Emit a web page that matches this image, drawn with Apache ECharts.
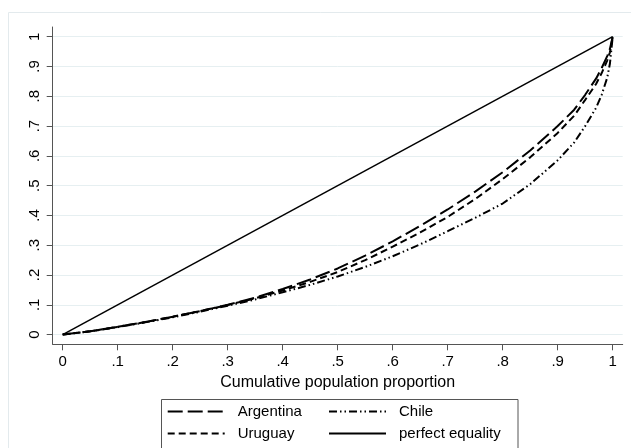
<!DOCTYPE html>
<html><head><meta charset="utf-8">
<script src="https://cdn.jsdelivr.net/npm/echarts@6/dist/echarts.min.js"></script>
<style>html,body{margin:0;padding:0;background:#fff}#c{width:631px;height:448px}</style>
</head><body><div id="c"></div>
<script>
// ---- data ----
const xValues   = [0, .05, .1, .15, .2, .25, .3, .35, .4, .45, .5, .55, .6, .65, .7, .75, .8, .85, .9, .93, .95, .97, .98, .99, .995, 1];
const argentina = [0, .011, .026, .042, .060, .079, .100, .124, .153, .185, .222, .265, .313, .365, .420, .480, .545, .618, .700, .755, .805, .860, .895, .935, .960, 1];
const uruguay   = [0, .011, .026, .042, .060, .079, .099, .122, .148, .177, .210, .250, .295, .343, .395, .455, .522, .595, .677, .735, .788, .842, .878, .920, .948, 1];
const chile     = [0, .011, .025, .041, .058, .077, .097, .118, .142, .167, .195, .227, .263, .303, .347, .392, .440, .505, .585, .645, .700, .762, .805, .862, .910, 1];
const equalityX = [0, 1];
const equalityY = [0, 1];
const tickValues = [0, .1, .2, .3, .4, .5, .6, .7, .8, .9, 1];
const tickLabels = ['0', '.1', '.2', '.3', '.4', '.5', '.6', '.7', '.8', '.9', '1'];
const seriesNames = ['Argentina', 'Uruguay', 'Chile', 'perfect equality'];
const xTitle = 'Cumulative population proportion';

function pairs(xs, ys) { return xs.map((x, i) => [x, ys[i]]); }
function labelFmt(v) {
  const i = tickValues.findIndex(t => Math.abs(t - v) < 1e-6);
  return i >= 0 ? tickLabels[i] : '';
}

const font = '"Liberation Sans", Arial, sans-serif';
const axisColor = '#555';
const gridColor = '#e6eff1';

const chart = echarts.init(document.getElementById('c'), null, {renderer: 'canvas'});
const lineBase = {type: 'line', symbol: 'none', showSymbol: false, smooth: false, xAxisIndex: 0, yAxisIndex: 0, z: 3};
const legendBase = {orient: 'vertical', top: 404, padding: 0, height: 44,
  itemWidth: 57, itemHeight: 14, itemGap: 7, selectedMode: false,
  itemStyle: {color: 'rgba(0,0,0,0)', borderWidth: 0, opacity: 0},
  textStyle: {fontSize: 15, lineHeight: 15, color: '#000', fontFamily: font, padding: [0, 0, 0, 8]}};

chart.setOption({
  animation: false,
  backgroundColor: '#fff',
  grid: [
    {left: 52.7, right: 8.3, top: 27, bottom: 103.7},
    {left: 52.7, right: 8.3, top: 36.7, bottom: 113.3}
  ],
  xAxis: [
    {type: 'value', gridIndex: 0, min: -0.0182, max: 1.0182,
      axisLine: {show: true, onZero: false, lineStyle: {color: axisColor, width: 1}},
      axisTick: {show: true, length: 6, customValues: tickValues, lineStyle: {color: axisColor}},
      axisLabel: {customValues: tickValues, formatter: labelFmt, fontSize: 15, color: '#000', margin: 10, fontFamily: font},
      splitLine: {show: false},
      name: xTitle, nameLocation: 'middle', nameGap: 30,
      nameTextStyle: {fontSize: 16, color: '#000', fontFamily: font}
    },
    {type: 'value', gridIndex: 1, min: 0, max: 1, show: false}
  ],
  yAxis: [
    {type: 'value', gridIndex: 0, min: -0.0326, max: 1.0326,
      axisLine: {show: true, onZero: false, lineStyle: {color: axisColor, width: 1}},
      axisTick: {show: true, length: 6, customValues: tickValues, lineStyle: {color: axisColor}},
      axisLabel: {customValues: tickValues, formatter: labelFmt, fontSize: 15, color: '#000', margin: 10, rotate: 90, fontFamily: font},
      splitLine: {show: false}
    },
    {type: 'value', gridIndex: 1, min: 0, max: 1, interval: 0.1,
      axisLine: {show: false}, axisTick: {show: false}, axisLabel: {show: false},
      splitLine: {show: true, lineStyle: {color: gridColor, width: 1}}
    }
  ],
  legend: [
    Object.assign({}, legendBase, {data: [seriesNames[0], seriesNames[1]], left: 166.7}),
    Object.assign({}, legendBase, {data: [seriesNames[2], seriesNames[3]], left: 328})
  ],
  graphic: [
    {type: 'rect', left: 6, top: 10, shape: {x: 0, y: 0, width: 640, height: 460}, style: {fill: 'none', stroke: '#e3eaed', lineWidth: 1}, silent: true, z: -1},
    {type: 'rect', left: 159, top: 397, shape: {x: 0, y: 0, width: 356.5, height: 70}, style: {fill: 'none', stroke: '#555', lineWidth: 1}, silent: true}
  ],
  series: [
    Object.assign({}, lineBase, {name: seriesNames[0], data: pairs(xValues, argentina),
      lineStyle: {color: '#000', width: 2, type: [15, 5]}, itemStyle: {color: '#000'}}),
    Object.assign({}, lineBase, {name: seriesNames[1], data: pairs(xValues, uruguay),
      lineStyle: {color: '#000', width: 2, type: [7, 4]}, itemStyle: {color: '#000'}}),
    Object.assign({}, lineBase, {name: seriesNames[2], data: pairs(xValues, chile),
      lineStyle: {color: '#000', width: 2, type: [8, 3, 1.5, 3, 1.5, 3]}, itemStyle: {color: '#000'}}),
    Object.assign({}, lineBase, {name: seriesNames[3], data: pairs(equalityX, equalityY),
      lineStyle: {color: '#000', width: 1.5, type: 'solid'}, itemStyle: {color: '#000'}})
  ]
});
</script>
</body></html>
